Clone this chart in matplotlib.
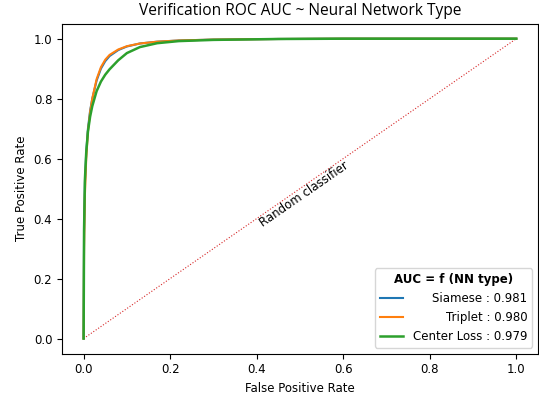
import numpy as np
import matplotlib.pyplot as plt

# ROC points
siamese_fpr = [0, 0.001, 0.003, 0.006, 0.01, 0.015, 0.02, 0.03, 0.04, 0.05, 0.06, 0.08, 0.1, 0.13, 0.17, 0.22, 0.3, 0.45, 0.6, 1.0]
siamese_tpr = [0, 0.35, 0.52, 0.62, 0.7, 0.76, 0.8, 0.86, 0.9, 0.925, 0.942, 0.962, 0.974, 0.984, 0.99, 0.994, 0.997, 0.999, 1.0, 1.0]

triplet_fpr = [0, 0.001, 0.003, 0.006, 0.01, 0.015, 0.02, 0.03, 0.04, 0.05, 0.06, 0.08, 0.1, 0.13, 0.17, 0.22, 0.3, 0.45, 0.6, 1.0]
triplet_tpr = [0, 0.3, 0.48, 0.6, 0.69, 0.755, 0.8, 0.865, 0.905, 0.93, 0.946, 0.964, 0.975, 0.984, 0.99, 0.994, 0.997, 0.999, 1.0, 1.0]

center_fpr = [0, 0.001, 0.003, 0.006, 0.01, 0.015, 0.02, 0.03, 0.04, 0.05, 0.06, 0.08, 0.1, 0.13, 0.17, 0.22, 0.3, 0.45, 0.6, 1.0]
center_tpr = [0, 0.36, 0.53, 0.62, 0.69, 0.74, 0.775, 0.825, 0.857, 0.88, 0.898, 0.928, 0.952, 0.972, 0.985, 0.992, 0.996, 0.999, 1.0, 1.0]

labels = ["Siamese : 0.981", "Triplet : 0.980", "Center Loss : 0.979"]

fig, ax = plt.subplots(figsize=(5.39, 3.95), dpi=100)
fig.subplots_adjust(left=0.115, right=0.998, top=0.94, bottom=0.105)

ax.plot([0, 1], [0, 1], color="tab:red", linestyle=":", linewidth=0.8)
ax.text(0.51, 0.48, "Random classifier", rotation=34.7, ha="center", va="center", fontsize=8.5)

ax.plot(siamese_fpr, siamese_tpr, color="tab:blue", linewidth=1.5, label=labels[0])
ax.plot(triplet_fpr, triplet_tpr, color="tab:orange", linewidth=1.5, label=labels[1])
ax.plot(center_fpr, center_tpr, color="tab:green", linewidth=1.8, label=labels[2])

ax.set_title("Verification ROC AUC ~ Neural Network Type", fontsize=11.2, family="Open Sans")
ax.set_xlabel("False Positive Rate", fontsize=8.5)
ax.set_ylabel("True Positive Rate", fontsize=8.5)
ax.tick_params(labelsize=8.5)

leg = ax.legend(loc="lower right", title="AUC = f (NN type)", fontsize=8.5,
                title_fontproperties={"weight": "bold", "size": 8.5})
# right-align the legend labels
renderer = fig.canvas.get_renderer()
texts = leg.get_texts()
widths = [t.get_window_extent(renderer).width for t in texts]
shift = max(widths)
for t, w in zip(texts, widths):
    t.set_position((shift - w, 0))

plt.savefig("out.png", dpi=100)
